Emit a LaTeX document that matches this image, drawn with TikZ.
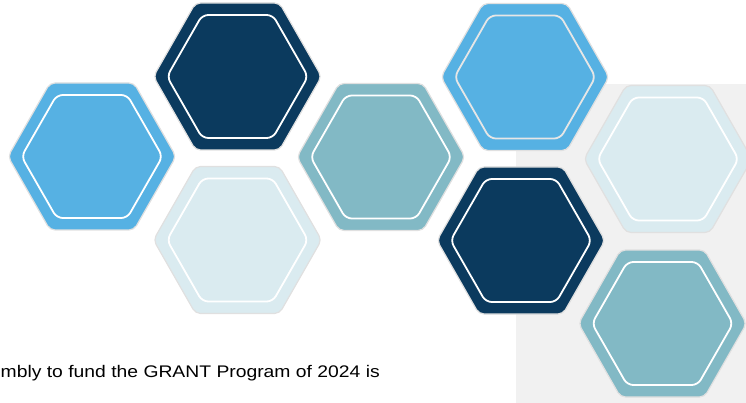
\documentclass[tikz,border=0pt]{standalone}
\usepackage{fontspec}
\setmainfont{Liberation Sans}
\definecolor{lblue}{HTML}{56B1E3}
\definecolor{navy}{HTML}{0B3A5E}
\definecolor{teal}{HTML}{82B9C5}
\definecolor{pale}{HTML}{DAEBF0}
\definecolor{bgray}{HTML}{F1F1F1}
\definecolor{hexborder}{HTML}{E0E0E0}
\definecolor{softline}{HTML}{E6E6E6}
\tikzset{
  hexouter/.style={draw=hexborder, line width=1.2pt, rounded corners=5pt},
  hexinner/.style={line width=1.8pt, rounded corners=6pt},
}
% #1 x, #2 y, #3 fill colour, #4 inner outline colour
\newcommand\hexcell[4]{%
  \filldraw[hexouter, fill=#3]
    (#1+84,#2) -- (#1+42,#2-73.5) -- (#1-42,#2-73.5) -- (#1-84,#2)
    -- (#1-42,#2+73.5) -- (#1+42,#2+73.5) -- cycle;
  \draw[hexinner, draw=#4]
    (#1+70.5,#2) -- (#1+35.25,#2-61.5) -- (#1-35.25,#2-61.5) -- (#1-70.5,#2)
    -- (#1-35.25,#2+61.5) -- (#1+35.25,#2+61.5) -- cycle;
}
\begin{document}
\begin{tikzpicture}[x=1pt,y=-1pt]
\useasboundingbox (0,0) rectangle (746,403);
\begin{scope}
\clip (0,0) rectangle (746,403);
\fill[bgray] (516,84) rectangle (746,403);
\hexcell{92}{156.5}{lblue}{white}
\hexcell{237.5}{76.5}{navy}{white}
\hexcell{237.5}{240}{pale}{white}
\hexcell{381}{157}{teal}{white}
\hexcell{525}{77}{lblue}{softline}
\hexcell{521}{240.5}{navy}{white}
\hexcell{668}{159}{pale}{white}
\hexcell{662.5}{323.5}{teal}{white}
\node[anchor=base west, inner sep=0pt] (caption) at (0.5,377)
  {\scalebox{1.15}[1]{\fontsize{16.8}{20}\selectfont mbly to fund the GRANT Program of 2024 is}};
\end{scope}
\end{tikzpicture}
\end{document}
